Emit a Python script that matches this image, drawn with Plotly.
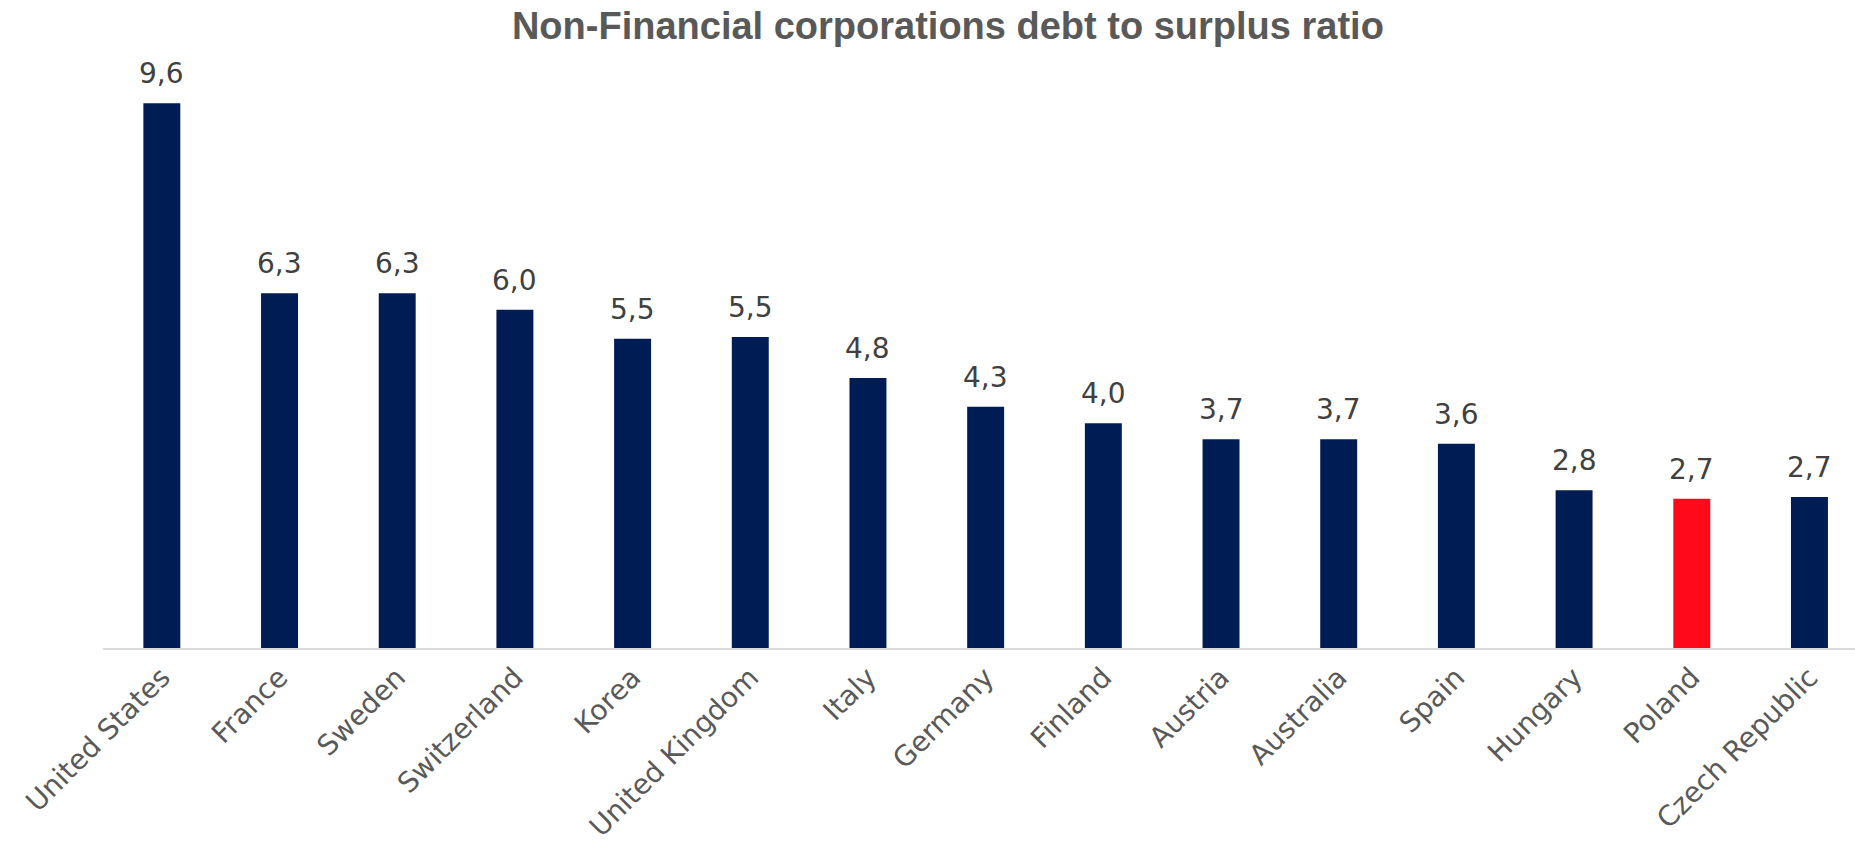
import plotly.graph_objects as go

countries = ["United States", "France", "Sweden", "Switzerland", "Korea", "United Kingdom",
             "Italy", "Germany", "Finland", "Austria", "Australia", "Spain", "Hungary",
             "Poland", "Czech Republic"]
values = [9.6, 6.25, 6.25, 5.96, 5.45, 5.48, 4.76, 4.25, 3.96, 3.68, 3.68, 3.60, 2.78, 2.63, 2.66]
value_labels = ["9,6", "6,3", "6,3", "6,0", "5,5", "5,5", "4,8", "4,3", "4,0", "3,7", "3,7",
                "3,6", "2,8", "2,7", "2,7"]
highlight = "Poland"

NAVY = "#001C54"
RED = "#FF0A1A"
colors = [RED if c == highlight else NAVY for c in countries]

fig = go.Figure()
fig.add_trace(go.Bar(
    x=countries, y=values, width=0.314,
    marker=dict(color=colors, line=dict(width=0)),
    hoverinfo="x+y", showlegend=False,
))

for c, v, t in zip(countries, values, value_labels):
    fig.add_annotation(x=c, y=v, text=t, showarrow=False, yanchor="bottom",
                       yshift=11, font=dict(family="DejaVu Sans", size=28, color="#404040"))

fig.update_layout(
    width=1855, height=842,
    margin=dict(l=103, r=0, t=60, b=194),
    paper_bgcolor="white", plot_bgcolor="white",
    title=dict(text="Non-Financial corporations debt to surplus ratio",
               x=0.511, xanchor="center", y=0.969, yanchor="middle",
               xref="container", yref="container",
               font=dict(family="Liberation Sans", size=38, color="#595959", weight="bold")),
    bargap=0.5,
)
fig.update_xaxes(type="category", range=[-0.5, 14.387], showline=True, linecolor="#D9D9D9",
                 linewidth=1.5, ticks="", tickangle=-45, automargin=False,
                 tickfont=dict(family="DejaVu Sans", size=28, color="#595959"),
                 showgrid=False, zeroline=False)
fig.update_yaxes(range=[0, 10.363], visible=False, showgrid=False, zeroline=False,
                 automargin=False)

fig.write_html("out.html")
